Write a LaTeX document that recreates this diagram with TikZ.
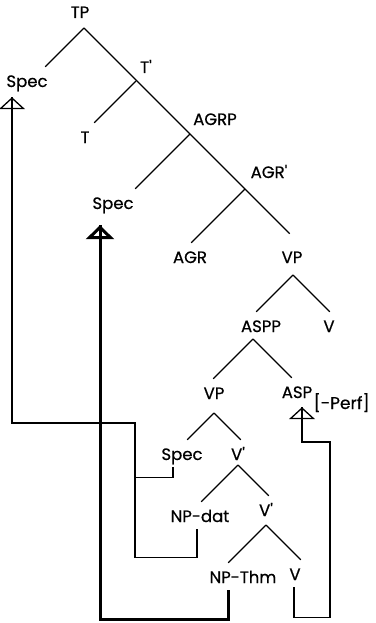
\documentclass[tikz,border=0pt]{standalone}
\usepackage{fontspec}
\setmainfont{Poppins}
\newfontfamily\catfont{Poppins}[FakeBold=0.6]
\usetikzlibrary{arrows.meta,calc}

\begin{document}
\begin{tikzpicture}[
  x=1pt,y=-1pt,
  cat/.style={inner sep=4pt,text height=11pt,text depth=3pt,anchor=base,font=\catfont\fontsize{16.5}{18}\selectfont},
  branch/.style={line width=1.1pt,shorten >=7pt},
  head/.style={postaction={draw,-{Triangle[open,#1]}}},
  link/.style={line width=1.3pt},
  trace/.style={link,head={width=26pt,length=12pt}},
  heavy/.style={line width=3pt,head={width=28pt,length=14pt}},
]
  \useasboundingbox (0,0) rectangle (375,623);

  % categories
  \foreach \nm/\x/\y/\txt in {tp/80/18/TP, spec1/27/87/Spec, tbar/146/73/T', t/85/143/T,
      agrp/215/125/AGRP, spec2/113/209/Spec, agrbar/269/178/AGR', agr/190/263/AGR,
      vp1/292/263/VP, aspp/261/332/ASPP, v1/329/332/V, vp2/214/399/VP,
      asp/297/398/ASP, spec3/182/460/Spec, vbar1/238/460/V', npdat/200/522/NP-dat,
      vbar2/266/516/V', npthm/243/583/NP-Thm, v2/295/580/V}
    \node[cat] (\nm) at (\x,\y) {\txt};
  \node[anchor=base west,inner sep=0pt,font=\catfont\fontsize{17}{18}\selectfont] (aspsub)
    at ([xshift=-3pt,yshift=-11pt]asp.base east) {[-Perf]};

  % branching points
  \coordinate (a0) at (84,28);
  \coordinate (a1) at (136,81);
  \coordinate (a2) at (190,134);
  \coordinate (a3) at (245,189);
  \coordinate (a4) at (293,275);
  \coordinate (a5) at (253,339);
  \coordinate (a6) at (214,413);
  \coordinate (a7) at (238,465);
  \coordinate (a8) at (266,525);

  \draw[branch,shorten >=20pt] let \p1=(a0), \p2=(vp1.north) in (\p1) -- ++({\y1-\y2},{\y2-\y1});
  \foreach \a/\b/\s in {a0/spec1/-1,a1/t/-1,a2/spec2/-1,a3/agr/-1,a4/aspp/-1,a4/v1/1,
      a5/vp2/-1,a5/asp/1,a6/spec3/-1,a6/vbar1/1,a7/npdat/-1,a7/vbar2/1,a8/npthm/-1,a8/v2/1}
    \draw[branch] let \p1=(\a), \p2=(\b.north) in (\p1) -- ++({\s*(\y1-\y2)},{\y2-\y1});

  % movement
  \draw[trace] ([xshift=-9pt]spec3.south) -- ++(0,10) -| (135,423)
    -| ([xshift=-15pt,yshift=-3pt]spec1.south);
  \draw[link] ([xshift=-3pt]npdat.south) -- ++(0,28) -| (135,477);
  \draw[heavy] ([xshift=-15pt]npthm.south) -- ++(0,29)
    -| ([xshift=-13pt,yshift=-9pt]spec2.south);
  \draw[trace] ([xshift=-1pt]v2.south) -- ++(0,30) -| (330,442)
    -| ([xshift=5pt,yshift=-2pt]asp.south);
\end{tikzpicture}
\end{document}
